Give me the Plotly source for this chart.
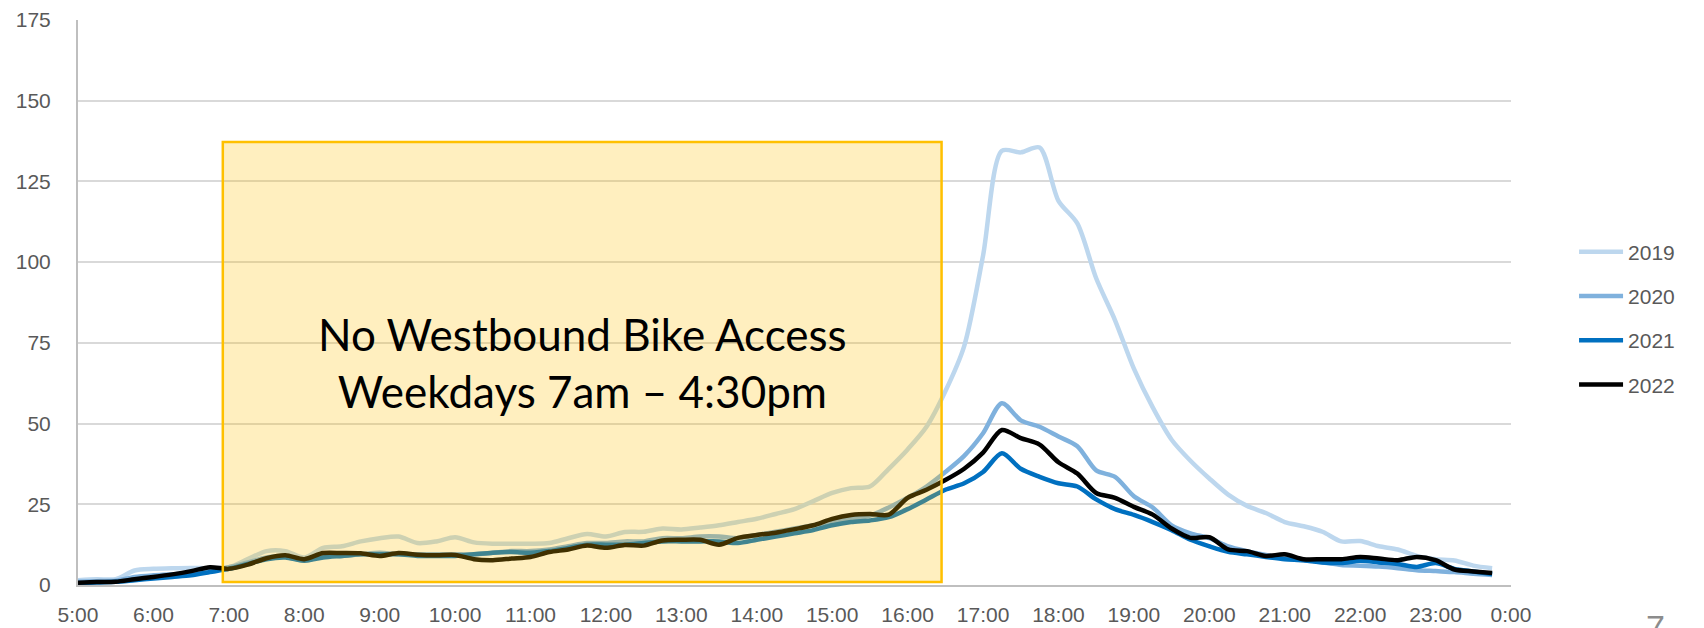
import plotly.graph_objects as go

# ---- data (15-minute intervals, 5:00 .. 23:45) ----
times = [f"{h}:{m:02d}" for h in range(5, 24) for m in (0, 15, 30, 45)]
hours = [int(t.split(":")[0]) + int(t.split(":")[1]) / 60 for t in times]

y2019 = [1.5, 1.8, 1.8, 4.5,
         5.0, 5.2, 5.3, 5.2,
         5.5, 8.0, 10.5, 10.5,
         8.5, 11.5, 12.0, 13.5,
         14.5, 15.0, 13.0, 13.5,
         14.8, 13.2, 12.8, 12.8,
         12.8, 13.0, 14.5, 15.8,
         15.0, 16.4, 16.5, 17.5,
         17.2, 17.8, 18.5, 19.5,
         20.5, 22.0, 23.5, 26.0,
         28.5, 30.0, 30.5, 36.0,
         42.0, 49.0, 60.0, 74.0,
         102.0, 134.5, 134.0, 135.5,
         119.0, 112.0, 95.0, 82.0,
         67.0, 55.0, 45.0, 38.5,
         33.0, 28.0, 24.5, 22.3,
         19.5, 18.2, 16.5, 13.5,
         13.6, 12.0, 11.0, 9.0,
         8.0, 7.6, 6.0, 5.2]

y2020 = [1.0, 1.2, 1.3, 2.5,
         3.0, 3.3, 3.8, 4.3,
         5.5, 7.0, 8.5, 9.0,
         7.5, 9.0, 9.0, 9.5,
         10.0, 9.5, 9.5, 9.5,
         9.5, 9.5, 10.0, 10.5,
         10.5, 11.0, 12.0, 13.0,
         13.0, 13.5, 13.5, 14.5,
         14.5, 15.0, 15.0, 14.5,
         15.5, 16.5, 17.5, 18.5,
         19.5, 20.5, 21.5, 24.0,
         27.0, 30.5, 35.0, 40.0,
         47.0, 56.3, 51.0, 49.0,
         46.0, 43.0, 35.5, 33.5,
         27.5, 24.0, 18.5, 16.0,
         14.5, 12.0, 10.5, 9.3,
         8.3, 7.7, 7.0, 6.2,
         6.0, 5.7, 5.2, 4.6,
         4.3, 4.0, 3.5, 3.1]

y2021 = [0.5, 0.8, 1.0, 1.5,
         2.0, 2.5, 3.0, 4.0,
         5.0, 6.5, 8.0, 8.5,
         7.5, 8.5, 9.0, 9.5,
         9.5, 9.5, 9.0, 9.0,
         9.0, 9.5, 10.0, 10.2,
         10.0, 10.5, 11.5, 12.5,
         12.5, 12.5, 13.0, 13.5,
         13.5, 13.5, 13.5, 13.0,
         14.0, 15.0, 16.0, 17.0,
         18.5, 19.5, 20.0, 21.0,
         23.5, 26.5, 29.5, 31.5,
         35.0, 40.8, 36.0, 33.5,
         31.5, 30.5, 26.5, 23.5,
         21.7, 19.5, 17.0, 14.0,
         12.0, 10.3, 9.5, 8.7,
         8.0, 7.7, 7.0, 6.8,
         7.5, 7.0, 6.5, 5.6,
         6.8, 5.0, 4.2, 3.4]

y2022 = [0.7, 0.9, 1.0, 1.8,
         2.5, 3.3, 4.3, 5.5,
         5.0, 6.3, 8.3, 9.2,
         8.0, 9.9, 9.9, 9.8,
         9.0, 9.9, 9.4, 9.2,
         9.3, 8.0, 7.7, 8.2,
         8.7, 10.2, 11.0, 12.2,
         11.5, 12.4, 12.2, 13.8,
         14.0, 14.0, 12.5, 14.6,
         15.5, 16.2, 17.3, 18.5,
         20.5, 21.7, 22.0, 21.8,
         27.0, 29.5, 32.5, 36.0,
         41.0, 48.0, 45.5, 43.5,
         38.0, 34.5, 28.5, 27.0,
         24.2, 21.8, 17.5, 14.6,
         14.8, 11.0, 10.5, 9.0,
         9.5, 8.0, 8.0, 8.0,
         8.7, 8.2, 7.7, 8.7,
         7.7, 4.8, 4.2, 3.7]

series_names = ["2019", "2020", "2021", "2022"]
series_values = [y2019, y2020, y2021, y2022]
series_colors = ["#BDD7EE", "#7FB1DD", "#0070C0", "#000000"]

tick_hours = list(range(5, 25))
tick_labels = [f"{h % 24}:00" for h in tick_hours]
y_ticks = list(range(0, 176, 25))

# restriction window (7am - 4:30pm) and its label
box_x0, box_x1, box_y0, box_y1 = 6.92, 16.45, 0.9, 137.2
box_text = "No Westbound Bike Access<br>Weekdays 7am \u2013 4:30pm"

fig = go.Figure()
for name, vals, col in zip(series_names, series_values, series_colors):
    fig.add_trace(go.Scatter(
        x=hours, y=vals, name=name, mode="lines",
        line=dict(color=col, width=4.5, shape="spline", smoothing=0.8),
        legendgroup=name,
    ))

fig.add_shape(type="rect", xref="x", yref="y",
              x0=box_x0, x1=box_x1, y0=box_y0, y1=box_y1,
              fillcolor="rgba(255,192,0,0.25)",
              line=dict(color="#FFC000", width=2.5), layer="above")

fig.add_annotation(x=(box_x0 + box_x1) / 2, y=69, xref="x", yref="y",
                   text=box_text, showarrow=False,
                   font=dict(family="Lato", size=44, color="#000000"))

fig.add_annotation(x=1.101, y=-0.038, xref="paper", yref="paper",
                   text="7", showarrow=False, xanchor="center", yanchor="top",
                   font=dict(family="Liberation Sans", size=34, color="#8C8C8C"))

fig.update_layout(
    width=1704, height=628,
    margin=dict(l=78, r=193, t=20, b=43, autoexpand=False),
    plot_bgcolor="white", paper_bgcolor="white",
    font=dict(family="Liberation Sans", size=21, color="#595959"),
    showlegend=True,
    legend=dict(x=1.044, y=0.4717, xanchor="left", yanchor="middle",
                traceorder="grouped", tracegroupgap=14, itemwidth=44,
                font=dict(family="Liberation Sans", size=21, color="#595959"),
                bgcolor="rgba(0,0,0,0)"),
)
fig.update_xaxes(range=[5, 24], tickvals=tick_hours, ticktext=tick_labels,
                 showgrid=False, zeroline=False, showline=True,
                 linecolor="#BFBFBF", linewidth=2,
                 ticks="", ticklabelstandoff=10,
                 tickfont=dict(size=21, color="#595959"))
fig.update_yaxes(range=[0, 175], tickvals=y_ticks,
                 showgrid=True, gridcolor="#D9D9D9", gridwidth=1.5,
                 zeroline=False, showline=True, linecolor="#BFBFBF", linewidth=2,
                 ticks="", ticklabelstandoff=21,
                 tickfont=dict(size=21, color="#595959"))

fig.write_html("out.html",
               config={"displayModeBar": False},
               post_script="document.body.style.margin='0';"
                           "document.body.style.overflow='hidden';")
